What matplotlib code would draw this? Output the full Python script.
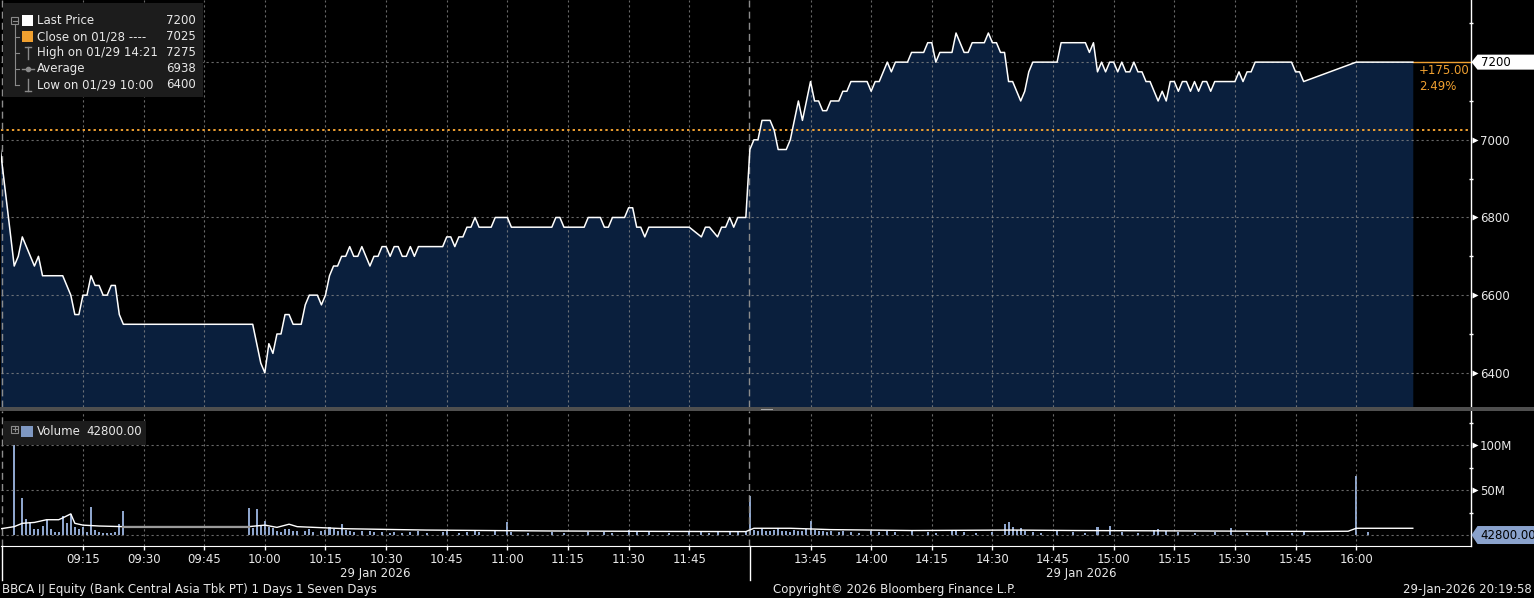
import matplotlib.pyplot as plt
from matplotlib.patches import Polygon, Rectangle
from matplotlib.lines import Line2D

# BBCA IJ, 29 Jan 2026, one-minute prices
price_time = [
    "08:54", "08:58", "08:59", "09:00", "09:03", "09:04", "09:05", "09:10", "09:12", "09:13",
    "09:14", "09:15", "09:16", "09:17", "09:18", "09:19", "09:20", "09:21", "09:22", "09:23",
    "09:24", "09:25", "09:57", "09:58", "09:59", "10:00", "10:01", "10:02", "10:03", "10:04",
    "10:05", "10:06", "10:07", "10:08", "10:09", "10:10", "10:11", "10:12", "10:13", "10:14",
    "10:15", "10:16", "10:17", "10:18", "10:19", "10:20", "10:21", "10:22", "10:23", "10:24",
    "10:25", "10:26", "10:27", "10:28", "10:29", "10:30", "10:31", "10:32", "10:33", "10:34",
    "10:35", "10:36", "10:37", "10:38", "10:44", "10:45", "10:46", "10:47", "10:48", "10:49",
    "10:50", "10:51", "10:52", "10:53", "10:56", "10:57", "11:00", "11:01", "11:11", "11:12",
    "11:13", "11:14", "11:19", "11:20", "11:23", "11:24", "11:25", "11:26", "11:29", "11:30",
    "11:31", "11:32", "11:33", "11:34", "11:35", "11:45", "11:48", "11:49", "11:50", "11:52",
    "11:53", "11:54", "11:55", "11:56", "11:57", "11:59",
    "13:30", "13:31", "13:32", "13:33", "13:35", "13:36", "13:37", "13:39", "13:40", "13:41",
    "13:42", "13:43", "13:44", "13:45", "13:46", "13:47", "13:48", "13:49", "13:50", "13:52",
    "13:53", "13:54", "13:55", "13:59", "14:00", "14:01", "14:02", "14:03", "14:04", "14:05",
    "14:06", "14:09", "14:10", "14:13", "14:14", "14:15", "14:16", "14:17", "14:20", "14:21",
    "14:22", "14:23", "14:24", "14:25", "14:28", "14:29", "14:30", "14:31", "14:32", "14:33",
    "14:34", "14:35", "14:36", "14:37", "14:38", "14:39", "14:40", "14:46", "14:47", "14:53",
    "14:54", "14:55", "14:56", "14:57", "14:58", "14:59", "15:00", "15:01", "15:02", "15:03",
    "15:04", "15:05", "15:06", "15:07", "15:08", "15:09", "15:10", "15:11", "15:12", "15:13",
    "15:14", "15:15", "15:16", "15:17", "15:18", "15:19", "15:20", "15:21", "15:22", "15:23",
    "15:24", "15:25", "15:30", "15:31", "15:32", "15:33", "15:34", "15:35", "15:44", "15:45",
    "15:46", "15:47", "16:00", "16:14",
]
price_value = [
    7025, 6675, 6700, 6750, 6675, 6700, 6650, 6650, 6600, 6550,
    6550, 6600, 6600, 6650, 6625, 6625, 6600, 6600, 6625, 6625,
    6550, 6525, 6525, 6475, 6425, 6400, 6475, 6450, 6500, 6500,
    6550, 6550, 6525, 6525, 6525, 6575, 6600, 6600, 6600, 6575,
    6600, 6650, 6675, 6675, 6700, 6700, 6725, 6700, 6700, 6725,
    6700, 6675, 6700, 6700, 6725, 6725, 6700, 6725, 6725, 6700,
    6700, 6725, 6700, 6725, 6725, 6750, 6750, 6725, 6750, 6750,
    6775, 6775, 6800, 6775, 6775, 6800, 6800, 6775, 6775, 6800,
    6800, 6775, 6775, 6800, 6800, 6775, 6775, 6800, 6800, 6825,
    6825, 6775, 6775, 6750, 6775, 6775, 6750, 6775, 6775, 6750,
    6775, 6775, 6800, 6775, 6800, 6800,
    6975, 7000, 7000, 7050, 7050, 7025, 6975, 6975, 7000, 7050,
    7100, 7050, 7100, 7150, 7100, 7100, 7075, 7075, 7100, 7100,
    7125, 7125, 7150, 7150, 7125, 7150, 7150, 7175, 7200, 7175,
    7200, 7200, 7225, 7225, 7250, 7250, 7200, 7225, 7225, 7275,
    7250, 7225, 7225, 7250, 7250, 7275, 7250, 7250, 7225, 7225,
    7150, 7150, 7125, 7100, 7125, 7175, 7200, 7200, 7250, 7250,
    7225, 7250, 7175, 7200, 7175, 7200, 7200, 7175, 7200, 7175,
    7175, 7200, 7175, 7175, 7150, 7150, 7125, 7100, 7125, 7100,
    7150, 7150, 7125, 7150, 7150, 7125, 7150, 7125, 7150, 7150,
    7125, 7150, 7150, 7175, 7150, 7175, 7175, 7200, 7200, 7175,
    7175, 7150, 7200, 7200,
]

# volume per minute, millions of shares
vol_time = [
    "08:58", "09:00", "09:01", "09:02", "09:03", "09:04", "09:05", "09:06", "09:07", "09:08",
    "09:09", "09:10", "09:11", "09:12", "09:13", "09:14", "09:15", "09:16", "09:17", "09:18",
    "09:19", "09:20", "09:21", "09:22", "09:23", "09:24", "09:25",
    "09:56", "09:57", "09:58", "09:59", "10:00", "10:01", "10:02", "10:03", "10:04", "10:05",
    "10:06", "10:07", "10:08", "10:10", "10:11", "10:12", "10:14", "10:15", "10:16", "10:17",
    "10:18", "10:19", "10:20", "10:21", "10:22", "10:24", "10:26", "10:27", "10:29", "10:31",
    "10:32", "10:34", "10:36", "10:38", "10:40", "10:44", "10:45", "10:48", "10:50", "10:52",
    "10:53", "10:57", "11:00", "11:01", "11:05", "11:11", "11:14", "11:20", "11:24", "11:26",
    "11:30", "11:32", "11:35", "11:40", "11:45", "11:48", "11:50", "11:52", "11:55", "11:57",
    "11:59",
    "13:30", "13:31", "13:32", "13:33", "13:34", "13:35", "13:36", "13:37", "13:38", "13:39",
    "13:40", "13:41", "13:42", "13:43", "13:44", "13:45", "13:46", "13:47", "13:48", "13:49",
    "13:50", "13:52", "13:53", "13:55", "13:57", "14:00", "14:02", "14:04", "14:06", "14:10",
    "14:14", "14:16", "14:20", "14:21", "14:23", "14:26", "14:30", "14:33", "14:34", "14:35",
    "14:36", "14:37", "14:38", "14:40", "14:42", "14:46", "14:50", "14:53", "14:56", "14:59",
    "15:02", "15:06", "15:10", "15:11", "15:13", "15:16", "15:20", "15:25", "15:29", "15:33",
    "15:38", "15:44", "15:47", "16:00", "16:03",
]
vol_mln = [
    110, 41, 18, 14, 7, 7, 10, 17, 7, 3,
    3, 21, 13, 23, 9, 7, 8.5, 3, 31, 5.5,
    3, 2, 2, 2, 3, 12, 27,
    30, 7.5, 29, 10.5, 15.5, 9, 8, 4, 3, 7,
    7, 4, 4, 5, 7, 3, 4, 6, 9, 7,
    5, 12, 6, 4, 3, 4, 5, 3, 3, 2,
    3, 2, 3, 4, 2, 3, 4, 2, 3, 5,
    3, 4, 15, 3, 2, 3, 2, 3, 3, 2,
    6, 3, 4, 2, 3, 4, 2, 3, 4, 3,
    5,
    43, 6, 5, 7, 4, 5, 6, 8, 4, 5,
    3, 6, 4, 5, 7, 16, 6, 4, 5, 3,
    4, 3, 5, 3, 2, 4, 3, 5, 3, 4,
    3, 2, 5, 6, 3, 2, 3, 12, 14, 9,
    6, 8, 4, 3, 2, 4, 3, 2, 9, 10,
    3, 2, 6, 7, 5, 3, 2, 3, 8, 2,
    3, 2, 3, 66, 3,
]

# average volume line, millions
avg_vol_time = ["08:54", "08:58", "09:00", "09:03", "09:06", "09:09", "09:10", "09:12", "09:13",
                "09:15", "09:19", "09:25", "09:56", "10:00", "10:03", "10:06", "10:08", "10:20",
                "10:40", "11:10", "11:40", "11:59", "13:31", "13:40", "13:50", "14:10", "14:35",
                "14:50", "15:20", "15:50", "15:58", "16:00", "16:14"]
avg_vol_mln = [6.5, 9.3, 13, 14, 17, 17, 19, 23.5, 13,
               11, 10, 9.3, 9.3, 11, 8.5, 12, 9.3, 7,
               5.5, 4.5, 4, 3.8, 7.5, 7.5, 6, 5, 5.5,
               5, 4.5, 4, 4.2, 7.5, 7.5]
avg_gap = ("09:25", "09:56")

tick_times = ["09:15", "09:30", "09:45", "10:00", "10:15", "10:30", "10:45", "11:00", "11:15",
              "11:30", "11:45", "13:45", "14:00", "14:15", "14:30", "14:45", "15:00", "15:15",
              "15:30", "15:45", "16:00"]
price_ticks = [6400, 6600, 6800, 7000, 7200]
price_minor = [6500, 6700, 6900, 7100, 7300]
vol_ticks = [50, 100]
vol_tick_labels = ["50M", "100M"]
vol_minor = [25, 75, 125]

last_price = 7200
prev_close = 7025
change_text = ["+175.00", "2.49%"]
last_volume = "42800.00"
legend_rows = [("Last Price", "7200"), ("Close on 01/28 ----", "7025"),
               ("High on 01/29 14:21", "7275"), ("Average", "6938"),
               ("Low on 01/29 10:00", "6400")]
session_date = "29 Jan 2026"
footer_left = "BBCA IJ Equity (Bank Central Asia Tbk PT) 1 Days 1 Seven Days"
footer_mid = "Copyright\u00a9 2026 Bloomberg Finance L.P."
footer_right = "29-Jan-2026 20:19:58"


def session_min(s):
    # minutes on the trading clock: lunch break 12:00-13:30 is squeezed out
    h, m = map(int, s.split(":"))
    mins = h * 60 + m
    if mins >= 13 * 60 + 30:
        return 180 + mins - (13 * 60 + 30)
    return mins - 9 * 60


W, H = 1534, 598
ORANGE = "#f0a030"
NAVY = "#0a1f3d"
GRID = dict(color="#8c8c8c", alpha=0.75, lw=0.8, ls=(0, (2, 2.5)))
TXT = "#e8e8e8"
FS = 8.5


def fx(x):
    return x / W


def fy(y):
    return 1 - y / H


pt = [session_min(s) for s in price_time]
vt = [session_min(s) for s in vol_time]
at = [session_min(s) for s in avg_vol_time]
brk = 180
xlim = (-5.27, 358.4)

fig = plt.figure(figsize=(W / 100, H / 100), dpi=100, facecolor="black")
axp = fig.add_axes([fx(1), fy(407), 1470 / W, 407 / H], facecolor="black")
axv = fig.add_axes([fx(1), fy(546), 1470 / W, 135 / H], facecolor="black")

# ---- price panel ----
axp.set_xlim(xlim)
axp.set_ylim(6312, 7360)
axp.fill_between(pt, price_value, 6312, color=NAVY, lw=0, zorder=1)
axp.plot(pt, price_value, color="white", lw=1.1, zorder=3)
axp.axhline(prev_close, color=ORANGE, lw=1.4, ls=(0, (1.2, 1.6)), zorder=2)
axp.plot([pt[-1], xlim[1]], [last_price, last_price], color=ORANGE, lw=1, zorder=2)

# ---- volume panel ----
axv.set_xlim(xlim)
axv.set_ylim(-12.2, 137.8)
axv.bar(vt, vol_mln, width=0.5, color="#8ea5cc", lw=0, zorder=1)
axv.plot(at, avg_vol_mln, color="white", lw=1, zorder=3)
g0, g1 = session_min(avg_gap[0]), session_min(avg_gap[1])
axv.plot([t for t in at if g0 <= t <= g1],
         [v for t, v in zip(at, avg_vol_mln) if g0 <= t <= g1],
         color="#9a9a9a", lw=1.6, zorder=4)
axv.axhline(0, **GRID, zorder=1.5)

tick_pos = [session_min(s) for s in tick_times]
for ax in (axp, axv):
    ax.set_axisbelow("line")
    ax.grid(True, **GRID)
    for side in ("top", "left", "bottom"):
        ax.spines[side].set_visible(False)
    ax.spines["right"].set_color("white")
    ax.spines["right"].set_linewidth(1)
    ax.yaxis.tick_right()
    ax.set_xticks(tick_pos)
    ax.tick_params(axis="y", which="major", length=0, pad=6.5, labelcolor=TXT, labelsize=FS)
    ax.tick_params(axis="y", which="minor", length=3.5, direction="inout", color="white", width=1)
    # day start and lunch-break separators
    ax.axvline(xlim[0] + 0.25, color="#8c8c8c", lw=1, ls=(0, (5, 3)), zorder=2)
    ax.axvline(brk - 0.25, color="#8c8c8c", lw=1, ls=(0, (5, 3)), zorder=2)

axp.set_yticks(price_ticks)
axp.set_yticklabels(["" if v == last_price else str(v) for v in price_ticks])
axp.set_yticks(price_minor, minor=True)
axp.tick_params(axis="x", length=0, labelbottom=False)

axv.set_yticks(vol_ticks)
axv.set_yticklabels(vol_tick_labels)
axv.set_yticks(vol_minor, minor=True)
axv.spines["bottom"].set_visible(True)
axv.spines["bottom"].set_color("white")
axv.set_xticklabels(tick_times)
axv.tick_params(axis="x", length=3, width=1, color="white", pad=2, labelcolor=TXT, labelsize=FS)

# little arrows in front of right axis labels
for ax, vals in ((axp, [v for v in price_ticks if v != last_price]), (axv, vol_ticks)):
    for v in vals:
        ax.plot([1 + 3.5 / 1470], [v], marker=">", ms=4, color="white", mec="none",
                transform=ax.get_yaxis_transform(), clip_on=False)


def tag(ax, value, text, face, h):
    y = ax.transData.transform((0, value))[1]
    xs = 1471.5
    pts = [(xs, y), (xs + 6, y + h / 2), (W, y + h / 2), (W, y - h / 2), (xs + 6, y - h / 2)]
    fig.add_artist(Polygon([(px / W, py / H) for px, py in pts], closed=True,
                           transform=fig.transFigure, fc=face, ec="none", zorder=10))
    fig.text((xs + 9) / W, y / H, text, color="black", fontsize=FS, va="center",
             ha="left", zorder=11)


tag(axp, last_price, str(last_price), "white", 15)
tag(axv, 0, last_volume, "#8aa2cc", 18)

fig.text(fx(1419), fy(71), change_text[0], color=ORANGE, fontsize=FS, va="center", zorder=11)
fig.text(fx(1419), fy(87), change_text[1], color=ORANGE, fontsize=FS, va="center", zorder=11)

# panel separator
fig.add_artist(Rectangle((0, fy(411)), 1, 4 / H, transform=fig.transFigure,
                         fc="#4f4f4f", ec="none", zorder=9))
fig.add_artist(Rectangle((fx(761), fy(410)), 12 / W, 1.5 / H, transform=fig.transFigure,
                         fc="#a8a8a8", ec="none", zorder=9))

# ---- legend boxes ----
LG = "#8a8a8a"


def fline(xs, ys, **kw):
    fig.add_artist(Line2D([fx(x) for x in xs], [fy(y) for y in ys],
                          transform=fig.transFigure, zorder=11, **kw))


def fbox(x, y, w, h, **kw):
    fig.add_artist(Rectangle((fx(x), fy(y + h)), w / W, h / H,
                             transform=fig.transFigure, zorder=11, **kw))


fig.add_artist(Rectangle((fx(3), fy(97)), 200 / W, 94 / H, transform=fig.transFigure,
                         fc="#1c1c1c", ec="none", zorder=10))
rows_y = [20.5, 36.5, 52.5, 68.5, 84.5]
for (label, val), y in zip(legend_rows, rows_y):
    fig.text(fx(37), fy(y), label, color=TXT, fontsize=FS, va="center", zorder=12)
    fig.text(fx(196), fy(y), val, color=TXT, fontsize=FS, va="center", ha="right", zorder=12)
fbox(11, 17, 7, 7, fill=False, ec=LG, lw=0.8)
fline([12.5, 16.5], [20.5, 20.5], color=LG, lw=0.8)
fline([14.5, 14.5], [24, rows_y[-1]], color=LG, lw=0.8)
for y in rows_y[1:]:
    fline([14.5, 19], [y, y], color=LG, lw=0.8)
fbox(22, rows_y[0] - 5.5, 11, 11, fc="white", ec="none")
fbox(22, rows_y[1] - 5.5, 11, 11, fc=ORANGE, ec="none")
fline([27.5, 27.5], [rows_y[2] - 6, rows_y[2] + 6], color=LG, lw=1)
fline([24.5, 30.5], [rows_y[2] - 6, rows_y[2] - 6], color=LG, lw=1)
fline([21.5, 33.5], [rows_y[3], rows_y[3]], color=LG, lw=1)
fline([27.5], [rows_y[3]], color=LG, marker="o", ms=3, lw=0)
fline([27.5, 27.5], [rows_y[4] - 6, rows_y[4] + 6], color=LG, lw=1)
fline([24.5, 30.5], [rows_y[4] + 6, rows_y[4] + 6], color=LG, lw=1)

fig.add_artist(Rectangle((fx(3), fy(445)), 143 / W, 24 / H, transform=fig.transFigure,
                         fc="#1c1c1c", ec="none", zorder=10))
fbox(11, 425.5, 7, 7, fill=False, ec=LG, lw=0.8)
fline([12.5, 16.5], [429, 429], color=LG, lw=0.8)
fline([14.5, 14.5], [427, 431], color=LG, lw=0.8)
fbox(21, 426, 11.5, 11, fc="#7f98c2", ec="none")
fig.text(fx(37), fy(431.5), "Volume", color=TXT, fontsize=FS, va="center", zorder=12)
fig.text(fx(86), fy(431.5), last_volume, color=TXT, fontsize=FS, va="center", zorder=12)

# ---- bottom labels ----
x_brk = axv.transData.transform((brk, 0))[0]
fline([1.5, 1.5], [546, 580], color="white", lw=1)
fline([x_brk, x_brk], [546, 580], color="white", lw=1)
for t0, t1 in ((xlim[0], brk), (brk, pt[-1])):
    xc = axv.transData.transform(((t0 + t1) / 2, 0))[0]
    fig.text(xc / W, fy(573), session_date, color=TXT, fontsize=FS, ha="center", va="center")

fig.text(fx(2), fy(590), footer_left, color=TXT, fontsize=FS, va="center")
fig.text(fx(773), fy(590), footer_mid, color=TXT, fontsize=FS, va="center")
fig.text(fx(1532), fy(590), footer_right, color=TXT, fontsize=FS, va="center", ha="right")

fig.savefig("out.png", dpi=100, facecolor="black")
